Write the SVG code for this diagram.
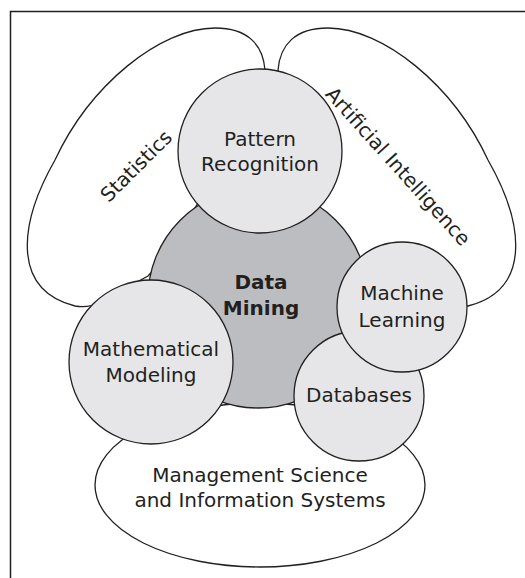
<svg xmlns="http://www.w3.org/2000/svg" width="525" height="578" viewBox="0 0 525 578">
<style>
.frame{fill:none;stroke:#231f20;stroke-width:1.5}
.blob{fill:#ffffff;stroke:#231f20;stroke-width:1.3}
.node{fill:#e6e6e8;stroke:#231f20;stroke-width:1.3}
.core{fill:#bcbdc0;stroke:#231f20;stroke-width:1.3}
text{font-family:"DejaVu Sans","Liberation Sans",sans-serif;font-size:20px;fill:#231f20;text-anchor:middle}
.bold{font-weight:bold}
</style>
<rect width="525" height="578" fill="#ffffff"/>
<g id="frame">
<path class="frame" d="M10.5,578 V11.5 H525"/>
</g>
<g id="statistics">
<path class="blob" d="M265,70 C263,45 248,28 215,28 C160,28 90,85 55,160 C18,225 12,290 75,306 C88,308 95,305 100,302 L148,276 L158,265 L200,200 Z"/>
<text transform="rotate(-45 141 171)" x="141" y="171">Statistics</text>
</g>
<g id="artificial-intelligence">
<path class="blob" d="M278,70 C280,45 295,28 328,28 C383,28 453,85 488,160 C525,225 531,290 468,306 L420,300 L340,260 L300,180 Z"/>
<text transform="rotate(48 393 171)" x="393" y="171">Artificial Intelligence</text>
</g>
<g id="management-science">
<ellipse class="blob" cx="260" cy="485" rx="165" ry="82"/>
<text x="260" y="482">Management Science</text>
<text x="260" y="507">and Information Systems</text>
</g>
<g id="data-mining">
<circle class="core" cx="258" cy="298" r="110"/>
<text class="bold" x="261" y="289">Data</text>
<text class="bold" x="261" y="315">Mining</text>
</g>
<g id="pattern-recognition">
<circle class="node" cx="260" cy="151" r="82"/>
<text x="260" y="146">Pattern</text>
<text x="260" y="171">Recognition</text>
</g>
<g id="mathematical-modeling">
<circle class="node" cx="151" cy="362" r="82"/>
<text x="151" y="356">Mathematical</text>
<text x="151" y="382">Modeling</text>
</g>
<g id="databases">
<circle class="node" cx="359" cy="396" r="65"/>
<text x="359" y="402">Databases</text>
</g>
<g id="machine-learning">
<circle class="node" cx="402" cy="307" r="65"/>
<text x="402" y="300">Machine</text>
<text x="402" y="327">Learning</text>
</g>
<g id="connectors"/>
</svg>
